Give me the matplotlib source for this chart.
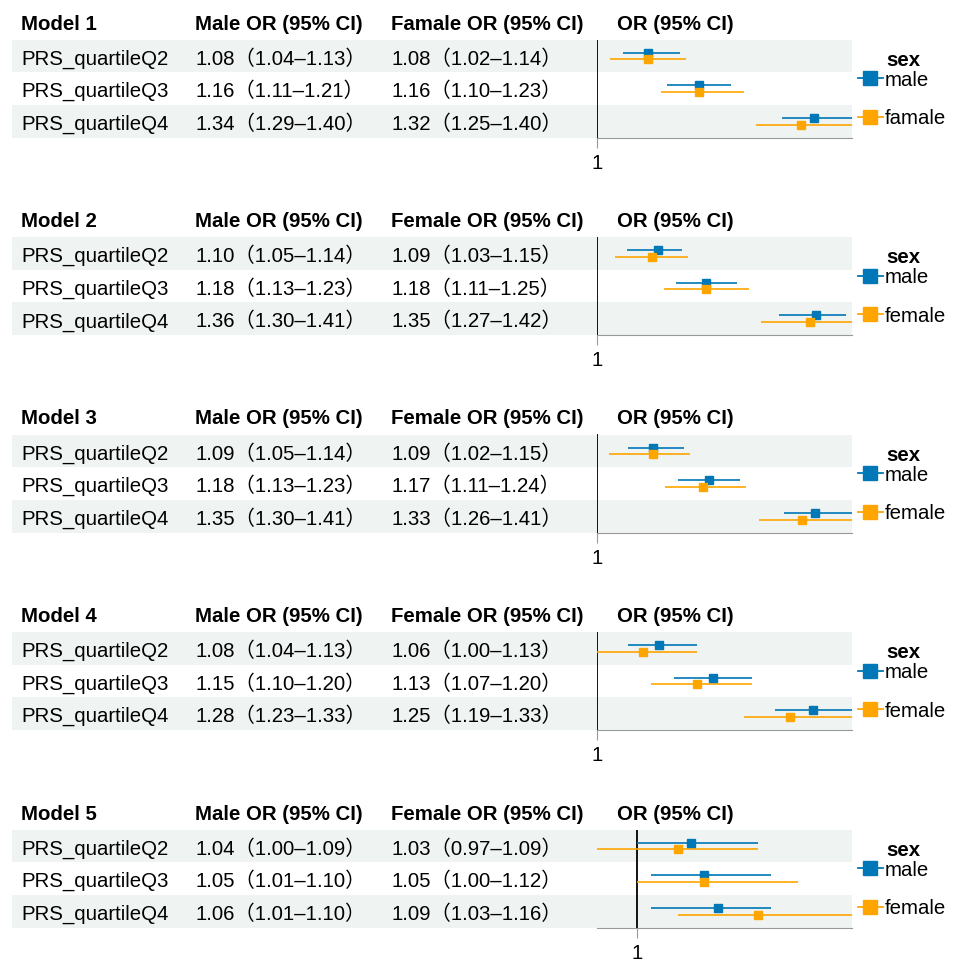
import numpy as np
import matplotlib
matplotlib.use("Agg")
import matplotlib.pyplot as plt
from matplotlib.patches import Rectangle
from matplotlib.lines import Line2D

plt.rcParams["font.family"] = ["Liberation Sans", "Noto Sans CJK SC"]

MODELS = ["Model 1", "Model 2", "Model 3", "Model 4", "Model 5"]
FEMALE_HEADERS = ["Famale OR (95% CI)", "Female OR (95% CI)", "Female OR (95% CI)",
                  "Female OR (95% CI)", "Female OR (95% CI)"]
FEMALE_LABELS = ["famale", "female", "female", "female", "female"]
QUARTILES = ["PRS_quartileQ2", "PRS_quartileQ3", "PRS_quartileQ4"]

male_or = [[1.08, 1.16, 1.34], [1.10, 1.18, 1.36], [1.09, 1.18, 1.35],
           [1.08, 1.15, 1.28], [1.04, 1.05, 1.06]]
male_lo = [[1.04, 1.11, 1.29], [1.05, 1.13, 1.30], [1.05, 1.13, 1.30],
           [1.04, 1.10, 1.23], [1.00, 1.01, 1.01]]
male_hi = [[1.13, 1.21, 1.40], [1.14, 1.23, 1.41], [1.14, 1.23, 1.41],
           [1.13, 1.20, 1.33], [1.09, 1.10, 1.10]]
female_or = [[1.08, 1.16, 1.32], [1.09, 1.18, 1.35], [1.09, 1.17, 1.33],
             [1.06, 1.13, 1.25], [1.03, 1.05, 1.09]]
female_lo = [[1.02, 1.10, 1.25], [1.03, 1.11, 1.27], [1.02, 1.11, 1.26],
             [1.00, 1.07, 1.19], [0.97, 1.00, 1.03]]
female_hi = [[1.14, 1.23, 1.40], [1.15, 1.25, 1.42], [1.15, 1.24, 1.41],
             [1.13, 1.20, 1.33], [1.09, 1.12, 1.16]]

BLUE = "#0077B6"
ORANGE = "#FFA500"
SHADE = "#eff3f2"
FS = 14.7

W, H = 955, 961
fig = plt.figure(figsize=(W / 100, H / 100), dpi=100)

# background axes in pixel units for the table part
bg = fig.add_axes([0, 0, 1, 1])
bg.set_xlim(0, W)
bg.set_ylim(H, 0)
bg.axis("off")

STEP = 197.5
ROW_H = 32.7
COL_X = [21, 195, 391, 617]
PLOT_L, PLOT_R = 597, 852


def fmt(o, lo, hi):
    return f"{o:.2f}（{lo:.2f}–{hi:.2f}）"


for k, model in enumerate(MODELS):
    top = 39.5 + k * STEP
    head_y = 22 + k * STEP

    headers = [model, "Male OR (95% CI)", FEMALE_HEADERS[k], "OR (95% CI)"]
    for x, txt in zip(COL_X, headers):
        bg.text(x, head_y, txt, fontsize=FS, fontweight="bold",
                va="center_baseline", ha="left")

    for i, q in enumerate(QUARTILES):
        y0 = top + i * ROW_H
        if i % 2 == 0:
            bg.add_patch(Rectangle((12, y0), PLOT_R - 12, ROW_H, color=SHADE, lw=0, zorder=0))
        yc = y0 + ROW_H / 2 + 1
        bg.text(COL_X[0], yc, q, fontsize=FS, va="center_baseline")
        bg.text(COL_X[1], yc, fmt(male_or[k][i], male_lo[k][i], male_hi[k][i]),
                fontsize=FS, va="center_baseline")
        bg.text(COL_X[2], yc, fmt(female_or[k][i], female_lo[k][i], female_hi[k][i]),
                fontsize=FS, va="center_baseline")

    # forest plot
    bottom = top + 3 * ROW_H
    ax = fig.add_axes([PLOT_L / W, 1 - bottom / H, (PLOT_R - PLOT_L) / W, 3 * ROW_H / H])
    ax.set_facecolor("none")
    rows = np.arange(len(QUARTILES))
    ax.hlines(rows - 0.1, male_lo[k], male_hi[k], color=BLUE, lw=1.2, zorder=3)
    ax.plot(male_or[k], rows - 0.1, "s", color=BLUE, ms=5.8, zorder=4)
    ax.hlines(rows + 0.1, female_lo[k], female_hi[k], color=ORANGE, lw=1.2, zorder=3)
    ax.plot(female_or[k], rows + 0.1, "s", color=ORANGE, ms=5.8, zorder=4)
    ax.axvline(1, color="black", lw=1.3, zorder=2)

    xmin = min(min(male_lo[k]), min(female_lo[k]), 1)
    xmax = max(max(male_hi[k]), max(female_hi[k]))
    ax.set_xlim(xmin, xmax)
    ax.set_ylim(2.5, -0.5)
    for s in ["top", "right", "left"]:
        ax.spines[s].set_visible(False)
    ax.spines["bottom"].set_color("#999999")
    ax.spines["bottom"].set_linewidth(0.8)
    ax.set_yticks([])
    ax.set_xticks([1])
    ax.set_xticklabels(["1"])
    ax.tick_params(axis="x", length=7, width=0.8, color="#999999", labelsize=FS, pad=4.5)

    ax.text(1.2, 0.79, "sex", transform=ax.transAxes, fontsize=FS, fontweight="bold",
            ha="center", va="center")
    handles = [Line2D([], [], color=BLUE, lw=1.3, marker="s", ms=10.5),
               Line2D([], [], color=ORANGE, lw=1.3, marker="s", ms=10.5)]
    ax.legend(handles, ["male", FEMALE_LABELS[k]], loc="center left",
              bbox_to_anchor=(1.0, 0.39), frameon=False, fontsize=FS,
              handlelength=1.2, handletextpad=0.1, labelspacing=0.95,
              borderaxespad=0, borderpad=0.3)

fig.savefig("out.png", dpi=100)
